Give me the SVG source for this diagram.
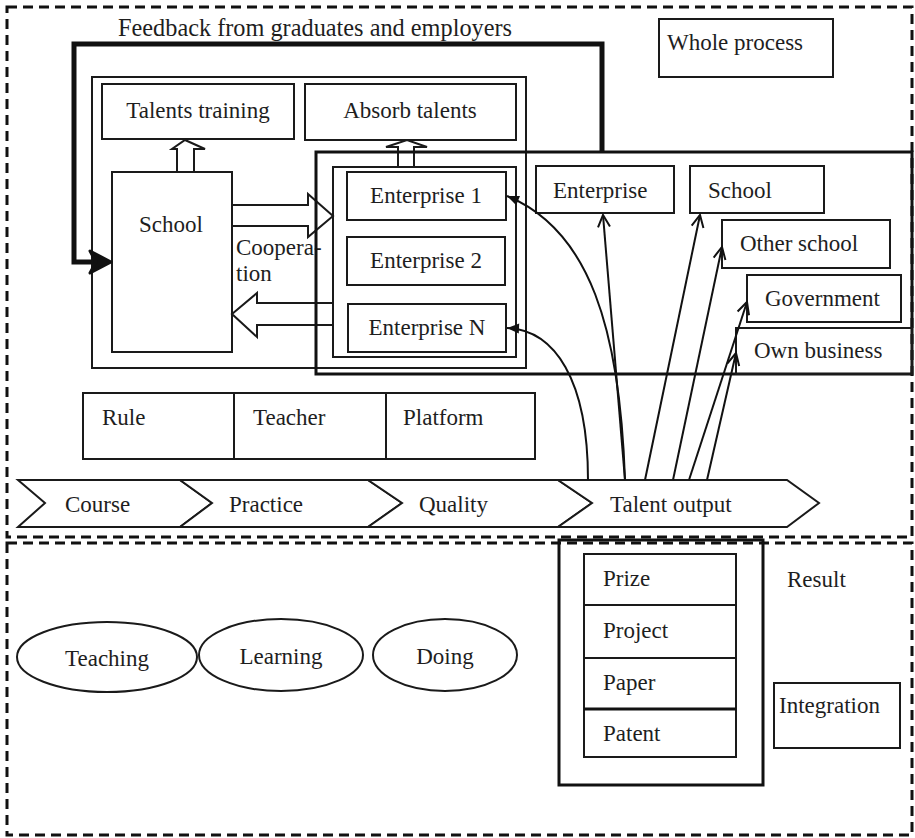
<svg xmlns="http://www.w3.org/2000/svg" width="915" height="838" viewBox="0 0 915 838">
<style>
.t{font-family:"Liberation Serif","Times New Roman",serif;font-size:23px;fill:#1e1e1e}
.c{text-anchor:middle}
.b{fill:#fff;stroke:#1a1a1a;stroke-width:2}
.n{fill:none;stroke:#1a1a1a;stroke-width:2}
.k{fill:none;stroke:#111;stroke-width:3}
.d{fill:none;stroke:#111;stroke-width:3;stroke-dasharray:10 6}
.ln{fill:none;stroke:#111;stroke-width:2}
</style>
<defs>
<marker id="open" viewBox="-14 -8 16 16" markerWidth="16" markerHeight="16" refX="0" refY="0" orient="auto" markerUnits="userSpaceOnUse">
<path d="M-12,-6 L0,0 L-12,6" fill="none" stroke="#111" stroke-width="2"/>
</marker>
<marker id="fill" viewBox="-14 -8 16 16" markerWidth="16" markerHeight="16" refX="0" refY="0" orient="auto" markerUnits="userSpaceOnUse">
<path d="M-12,-5 L0,0 L-12,5 z" fill="#111"/>
</marker>
</defs>
<rect width="915" height="838" fill="#fff"/>

<g id="frames">
<rect class="d" x="7" y="7" width="905" height="530"/>
<rect class="d" x="7" y="543" width="905" height="292"/>
</g>

<g id="feedback-label"><text class="t" x="118" y="36" style="font-size:24.3px">Feedback from graduates and employers</text></g>

<g id="whole-process"><rect class="n" x="659" y="19" width="174" height="58"/><text class="t" x="667" y="50">Whole process</text></g>

<g id="container"><rect class="n" x="92" y="77" width="434" height="291"/></g>

<g id="talents-training"><rect class="n" x="102" y="84" width="192" height="55"/><text class="t c" x="198" y="118">Talents training</text></g>
<g id="absorb-talents"><rect class="n" x="305" y="84" width="211" height="56"/><text class="t c" x="410" y="118">Absorb talents</text></g>

<g id="school"><rect class="b" x="112" y="172" width="120" height="180"/><text class="t c" x="171" y="232">School</text></g>

<g id="block-arrows">
<polygon class="b" points="177,172 177,149 172,149 185,140 205,149 194,149 194,172"/>
<polygon class="b" points="398,167 398,147 386,147 407,140 427,147 414,147 414,167"/>
<polygon class="b" points="232,205 308,205 308,194 333,216 308,237 308,226 232,226"/>
<polygon class="b" points="333,303 257,303 257,293 232,314 257,337 257,325 333,325"/>
</g>

<g id="cooperation"><text class="t" x="236" y="255">Coopera-</text><text class="t" x="236" y="281">tion</text></g>

<g id="enterprise-group">
<rect class="n" x="333" y="167" width="183" height="190"/>
</g>
<g id="enterprise-1"><rect class="n" x="347" y="172" width="159" height="48"/><text class="t c" x="426" y="203">Enterprise 1</text></g>
<g id="enterprise-2"><rect class="n" x="347" y="237" width="158" height="48"/><text class="t c" x="426" y="268">Enterprise 2</text></g>
<g id="enterprise-n"><rect class="n" x="348" y="304" width="158" height="48"/><text class="t c" x="427" y="335">Enterprise N</text></g>

<g id="outcome-area"><rect class="k" x="316" y="152" width="596" height="222"/></g>

<g id="enterprise-dest"><rect class="n" x="536" y="166" width="138" height="47"/><text class="t" x="553" y="198">Enterprise</text></g>
<g id="school-dest"><rect class="n" x="690" y="166" width="134" height="47"/><text class="t" x="708" y="198">School</text></g>
<g id="other-school"><rect class="n" x="722" y="220" width="168" height="48"/><text class="t" x="740" y="251">Other school</text></g>
<g id="government"><rect class="n" x="747" y="275" width="154" height="47"/><text class="t" x="765" y="306">Government</text></g>
<g id="own-business"><rect class="n" x="736" y="328" width="176" height="46"/><text class="t" x="754" y="358">Own business</text></g>

<g id="rule"><rect class="n" x="83" y="393" width="151" height="66"/><text class="t" x="102" y="425">Rule</text></g>
<g id="teacher"><rect class="n" x="234" y="393" width="152" height="66"/><text class="t" x="253" y="425">Teacher</text></g>
<g id="platform"><rect class="n" x="386" y="393" width="149" height="66"/><text class="t" x="403" y="425">Platform</text></g>

<g id="course"><polygon class="b" points="18,480 180,480 212,503 180,527 18,527 45,503"/><text class="t" x="65" y="512">Course</text></g>
<g id="practice"><polygon class="b" points="180,480 368,480 402,503 368,527 180,527 212,503"/><text class="t" x="229" y="512">Practice</text></g>
<g id="quality"><polygon class="b" points="368,480 558,480 592,503 558,527 368,527 402,503"/><text class="t" x="419" y="512">Quality</text></g>
<g id="talent-output"><polygon class="b" points="558,480 787,480 819,503 787,527 558,527 592,503"/><text class="t" x="610" y="512">Talent output</text></g>

<g id="connectors">
<path d="M602,152 L602,44 L74,44 L74,262 L100,262" fill="none" stroke="#111" stroke-width="5"/>
<path d="M90,251 L111,262 L90,273 L96,262 z" fill="#111" stroke="#111" stroke-width="3" stroke-linejoin="round"/>
<path class="ln" d="M588,480 C588,380 555,330 507,328" marker-end="url(#fill)"/>
<path class="ln" d="M625,480 C620,330 590,230 507,196" marker-end="url(#fill)"/>
<path class="ln" d="M625,480 L603,215" marker-end="url(#open)"/>
<path class="ln" d="M645,480 L700,215" marker-end="url(#open)"/>
<path class="ln" d="M673,480 L722,247" marker-end="url(#open)"/>
<path class="ln" d="M689,480 L747,302" marker-end="url(#open)"/>
<path class="ln" d="M707,480 L736,353" marker-end="url(#open)"/>
</g>

<g id="teaching"><ellipse class="n" cx="107" cy="657" rx="90" ry="35"/><text class="t c" x="107" y="666">Teaching</text></g>
<g id="learning"><ellipse class="n" cx="281" cy="655" rx="82" ry="36"/><text class="t c" x="281" y="664">Learning</text></g>
<g id="doing"><ellipse class="n" cx="445" cy="655" rx="72" ry="36"/><text class="t c" x="445" y="664">Doing</text></g>

<g id="result-box"><rect class="k" x="559" y="540" width="204" height="245"/></g>
<g id="result-list">
<rect class="n" x="584" y="554" width="152" height="203"/>
<line class="n" x1="584" y1="605" x2="736" y2="605"/>
<line class="n" x1="584" y1="658" x2="736" y2="658"/>
<line class="k" x1="584" y1="709" x2="736" y2="709"/>
<text class="t" x="603" y="586">Prize</text>
<text class="t" x="603" y="638">Project</text>
<text class="t" x="603" y="690">Paper</text>
<text class="t" x="603" y="741">Patent</text>
</g>
<g id="result-label"><text class="t" x="787" y="587">Result</text></g>
<g id="integration"><rect class="n" x="774" y="683" width="126" height="65"/><text class="t" x="779" y="713">Integration</text></g>
</svg>
